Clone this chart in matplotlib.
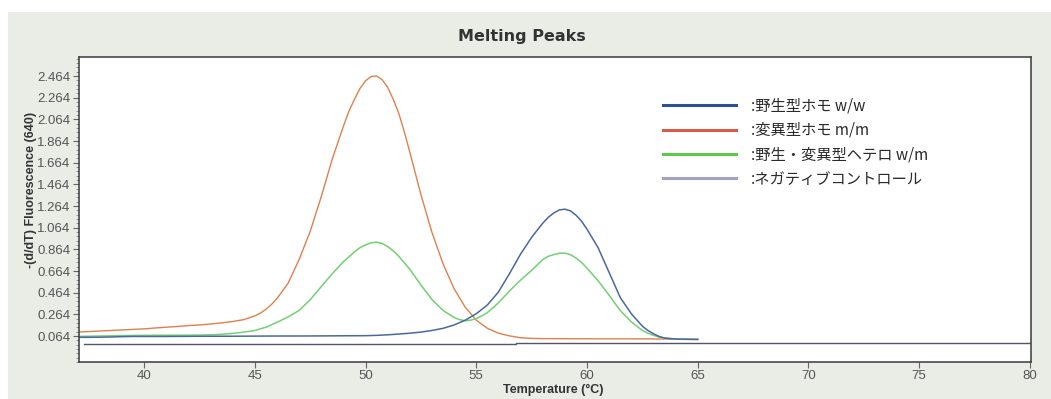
import matplotlib
matplotlib.use("Agg")
import matplotlib.pyplot as plt
from matplotlib.lines import Line2D
from matplotlib.patches import Rectangle
from matplotlib.ticker import AutoMinorLocator

# -(d/dT) fluorescence, each curve with its own temperatures (degC)

# wild type homozygote w/w
wild_t = [37.0, 37.5, 38.0, 38.5, 39.0, 39.5, 40.0, 41.0, 42.0, 43.0,
          44.0, 45.0, 46.0, 47.0, 48.0, 49.0, 50.0, 50.5, 51.0, 51.5,
          52.0, 52.5, 53.0, 53.5, 54.0, 54.5, 55.0, 55.5, 56.0, 56.5,
          57.0, 57.5, 58.0, 58.25, 58.5, 58.75, 59.0, 59.25, 59.5, 59.75,
          60.0, 60.5, 61.0, 61.5, 62.0, 62.5, 62.75, 63.0, 63.25, 63.5,
          64.0, 64.5, 65.0]
wild_v = [0.052, 0.052, 0.053, 0.055, 0.058, 0.060, 0.060, 0.060, 0.061, 0.062,
          0.062, 0.063, 0.064, 0.064, 0.065, 0.066, 0.067, 0.070, 0.075, 0.082,
          0.090, 0.100, 0.115, 0.135, 0.166, 0.210, 0.270, 0.350, 0.470, 0.640,
          0.820, 0.975, 1.105, 1.160, 1.200, 1.228, 1.235, 1.220, 1.180, 1.125,
          1.050, 0.880, 0.650, 0.420, 0.270, 0.155, 0.115, 0.085, 0.060, 0.045,
          0.036, 0.034, 0.033]

# mutant homozygote m/m
mut_t = [37.0, 37.5, 38.0, 38.5, 39.0, 39.5, 40.0, 40.5, 41.0, 41.5,
         42.0, 42.5, 43.0, 43.5, 44.0, 44.5, 45.0, 45.25, 45.5, 45.75,
         46.0, 46.5, 47.0, 47.5, 48.0, 48.5, 49.0, 49.25, 49.5, 49.75,
         50.0, 50.25, 50.5, 50.75, 51.0, 51.25, 51.5, 51.75, 52.0, 52.5,
         53.0, 53.5, 54.0, 54.5, 55.0, 55.5, 56.0, 56.5, 57.0, 57.5,
         58.0, 59.0, 60.0, 61.0, 62.0, 63.0, 63.5, 64.0, 64.5, 65.0]
mut_v = [0.100, 0.105, 0.110, 0.115, 0.120, 0.125, 0.130, 0.138, 0.145, 0.152,
         0.160, 0.166, 0.175, 0.185, 0.198, 0.215, 0.250, 0.275, 0.310, 0.355,
         0.410, 0.550, 0.770, 1.030, 1.350, 1.700, 2.000, 2.140, 2.250, 2.350,
         2.420, 2.460, 2.465, 2.430, 2.360, 2.250, 2.120, 1.950, 1.760, 1.370,
         1.020, 0.730, 0.500, 0.330, 0.210, 0.135, 0.090, 0.065, 0.048, 0.042,
         0.040, 0.039, 0.038, 0.038, 0.038, 0.037, 0.036, 0.034, 0.033, 0.032]

# heterozygote w/m
het_t = [37.0, 37.5, 38.0, 38.5, 39.0, 39.5, 40.0, 41.0, 42.0, 42.5,
         43.0, 43.5, 44.0, 44.5, 45.0, 45.5, 46.0, 46.5, 47.0, 47.5,
         48.0, 48.5, 49.0, 49.5, 49.75, 50.0, 50.25, 50.5, 50.75, 51.0,
         51.25, 51.5, 52.0, 52.5, 53.0, 53.5, 54.0, 54.25, 54.5, 54.75,
         55.0, 55.25, 55.5, 56.0, 56.5, 57.0, 57.5, 58.0, 58.25, 58.5,
         58.75, 59.0, 59.25, 59.5, 59.75, 60.0, 60.5, 61.0, 61.5, 62.0,
         62.5, 62.75, 63.0, 63.25, 63.5, 64.0, 64.5, 65.0]
het_v = [0.060, 0.062, 0.064, 0.066, 0.068, 0.069, 0.070, 0.071, 0.072, 0.073,
         0.075, 0.080, 0.088, 0.100, 0.115, 0.145, 0.190, 0.240, 0.300, 0.400,
         0.520, 0.640, 0.750, 0.840, 0.880, 0.905, 0.925, 0.930, 0.918, 0.890,
         0.850, 0.800, 0.680, 0.535, 0.400, 0.300, 0.235, 0.215, 0.205, 0.210,
         0.225, 0.250, 0.280, 0.370, 0.480, 0.580, 0.670, 0.770, 0.800, 0.815,
         0.828, 0.830, 0.815, 0.785, 0.745, 0.690, 0.575, 0.440, 0.300, 0.195,
         0.115, 0.090, 0.070, 0.055, 0.045, 0.036, 0.034, 0.033]

# negative control: flat line with a small step near 57 degC
neg_t = [37.3, 56.8, 56.8, 80.0]
neg_v = [-0.008, -0.008, 0.003, 0.003]

labels = [":野生型ホモ w/w", ":変異型ホモ m/m", ":野生・変異型ヘテロ w/m", ":ネガティブコントロール"]
legend_colors = ["#2f4f95", "#d85a48", "#5ccc48", "#a2a2c0"]

y_ticks = [0.064, 0.264, 0.464, 0.664, 0.864, 1.064, 1.264, 1.464, 1.664, 1.864, 2.064, 2.264, 2.464]
x_ticks = [40, 45, 50, 55, 60, 65, 70, 75, 80]

fig = plt.figure(figsize=(10.51, 3.99), dpi=100, facecolor="white")
# greyish-green page background of the scan
fig.patches.append(Rectangle((8 / 1051, 0), 1, 1 - 12 / 399, transform=fig.transFigure,
                             facecolor="#e9ede6", edgecolor="none", zorder=-10))

ax = fig.add_axes([79 / 1051, 1 - 362 / 399, (1031 - 79) / 1051, (362 - 57) / 399])
ax.set_facecolor("white")

ax.plot(neg_t, neg_v, color="#55556a", linewidth=1.0)
ax.plot(mut_t, mut_v, color="#e0804c", linewidth=1.0)
ax.plot(het_t, het_v, color="#72d072", linewidth=1.1)
ax.plot(wild_t, wild_v, color="#4a68a0", linewidth=1.1)

ax.set_xlim(37.06, 80.05)
ax.set_ylim(-0.176, 2.64)
ax.set_xticks(x_ticks)
ax.set_yticks(y_ticks)
ax.set_yticklabels([f"{v:.3f}" for v in y_ticks])
ax.yaxis.set_minor_locator(AutoMinorLocator(5))

for s in ax.spines.values():
    s.set_color("#3a3a3a")
    s.set_linewidth(1.1)
ax.tick_params(axis="both", which="major", direction="out", length=4, width=0.8,
               color="#666666", labelcolor="#555555", labelsize=9.5, pad=2)
ax.tick_params(axis="y", which="minor", direction="out", length=2, width=0.6, color="#888888")
for t in ax.get_xticklabels() + ax.get_yticklabels():
    t.set_fontfamily("Liberation Sans")

# texts
fig.text(522 / 1051, 1 - 37 / 399, "Melting Peaks", ha="center", va="center",
         fontsize=11.5, fontweight="heavy", color="#333333", family="DejaVu Sans")
fig.text(553 / 1051, 1 - 390 / 399, "Temperature (°C)", ha="center", va="center",
         fontsize=9, fontweight="bold", color="#333333", family="Liberation Sans")
fig.text(31 / 1051, 1 - 190 / 399, "-(d/dT) Fluorescence (640)", ha="center", va="center",
         rotation=90, fontsize=9, fontweight="bold", color="#333333", family="Liberation Sans")

# legend pasted over the plot
handles = [Line2D([], [], color=c, linewidth=2.2) for c in legend_colors]
leg = ax.legend(handles, labels, loc="upper left", bbox_to_anchor=(655 / 1051, 1 - 90 / 399),
                bbox_transform=fig.transFigure, frameon=False, borderpad=0,
                handlelength=4.8, handletextpad=1.0, labelspacing=0.48,
                prop={"family": ["Noto Sans CJK JP", "DejaVu Sans"], "size": 11})
for t in leg.get_texts():
    t.set_color("#2a2a2a")

fig.savefig("out.png", dpi=100, facecolor=fig.get_facecolor())
